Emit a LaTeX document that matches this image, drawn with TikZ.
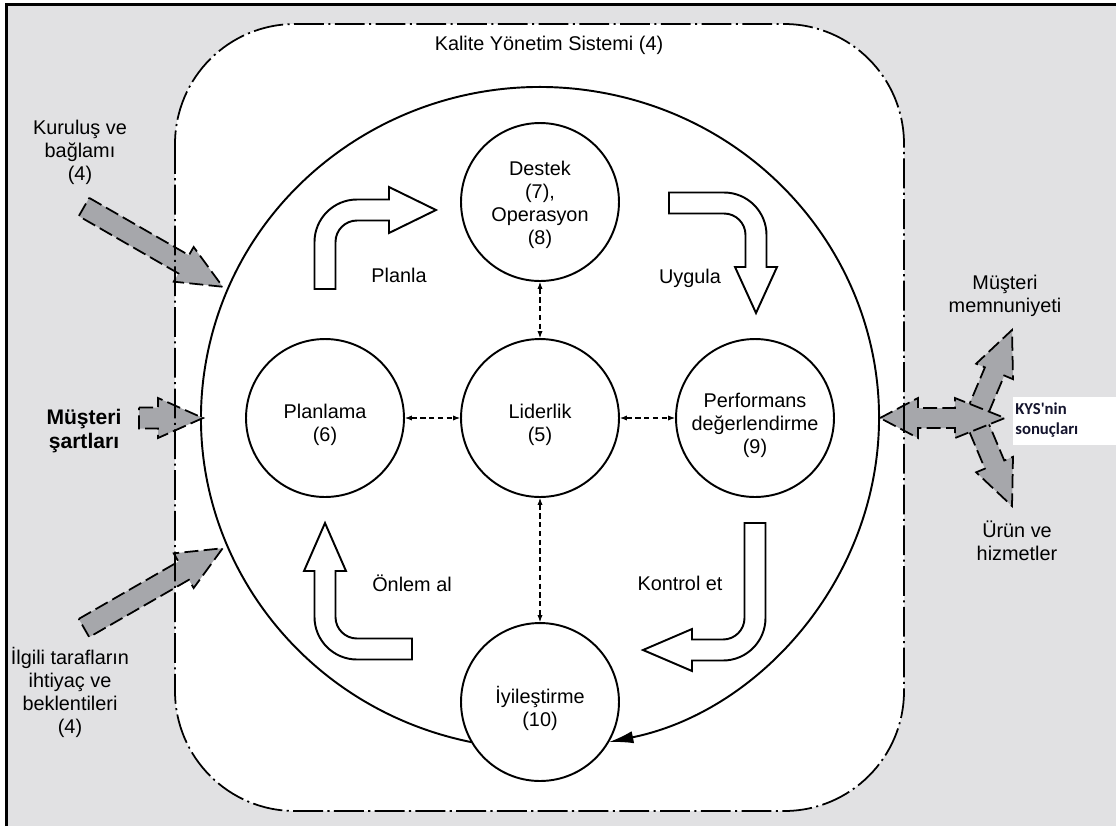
\documentclass[tikz,border=0pt]{standalone}
\usepackage{fontspec}
\setmainfont{Liberation Sans}
\newfontfamily\kysfont{Carlito}[Ligatures=TeXOff]
\usetikzlibrary{arrows.meta}
\definecolor{bggrey}{RGB}{225,225,227}
\definecolor{argrey}{RGB}{166,167,171}
\definecolor{kysink}{RGB}{20,20,45}
\newcommand{\mysz}{\fontsize{11.3}{13.1}\selectfont}
\newcommand{\GArrow}[4]{%
  \begin{scope}[shift={(#1,#2)},rotate=#3]
    \path[greyarr] (0,10.5) -- ({#4-45},10.5) -- ({#4-45},20) -- (#4,0) -- ({#4-45},-20) -- ({#4-45},-10.5) -- (0,-10.5) -- cycle;
  \end{scope}}
\tikzset{
  circ/.style={circle, draw, line width=1.1pt, minimum size=3.16cm, inner sep=0pt, fill=white},
  lbl/.style={align=center, font=\mysz, inner sep=0pt},
  dbl/.style={dash pattern=on 3pt off 2pt, line width=0.6pt, {Latex[length=4pt,width=3pt]}-{Latex[length=4pt,width=3pt]}},
  blockarr/.style={draw, fill=white, line width=1.1pt, line join=miter},
  greyarr/.style={draw, fill=argrey, line width=1pt, dash pattern=on 8pt off 3pt, line join=miter},
  dashdot/.style={line width=1pt, dash pattern=on 17pt off 2.5pt on 1.2pt off 2.5pt},
}
\begin{document}
\begin{tikzpicture}[x=0.02cm,y=0.02cm]
\useasboundingbox (0,0) rectangle (1116,-826);
% background and frame
\fill[white] (0,0) rectangle (1116,-826);
\fill[bggrey] (5,-3) rectangle (1116,-826);
\draw[line width=1.7pt] (6.5,-826) -- (6.5,-4) -- (1116,-4);
% system boundary fill
\fill[white, rounded corners=2.4cm] (175,-24) rectangle (904,-811);
% big cycle
\coordinate (C) at (540,-418);
\draw[line width=1.1pt, -{Latex[length=14pt,width=7pt]}] ([shift={(258.3:339 and 331)}]C) arc[start angle=258.3, end angle=-78.3, x radius=339, y radius=331];
% block arrows
\path[blockarr] (314.5,-289) -- (314.5,-242) arc[start angle=180,end angle=90,radius=42.5] -- (389,-199.5) -- (389,-187) -- (436,-210) -- (389,-233) -- (389,-220.5) -- (357,-220.5) arc[start angle=90,end angle=180,radius=21.5] -- (335.5,-289) -- cycle;
\path[blockarr] (669,-192.5) -- (724,-192.5) arc[start angle=90,end angle=0,radius=42.5] -- (766.5,-267) -- (777,-267) -- (756,-313) -- (735,-267) -- (745.5,-267) -- (745.5,-235) arc[start angle=0,end angle=90,radius=21.5] -- (669,-213.5) -- cycle;
\path[blockarr] (744.5,-523) -- (765.5,-523) -- (765.5,-618) arc[start angle=0,end angle=-90,radius=42.5] -- (692,-660.5) -- (692,-671) -- (643,-650) -- (692,-629) -- (692,-639.5) -- (723,-639.5) arc[start angle=-90,end angle=0,radius=21.5] -- cycle;
\path[blockarr] (412,-638.5) -- (357,-638.5) arc[start angle=-90,end angle=-180,radius=21.5] -- (335.5,-571) -- (346,-571) -- (325,-523) -- (304,-571) -- (314.5,-571) -- (314.5,-617) arc[start angle=180,end angle=270,radius=42.5] -- (412,-659.5) -- cycle;
% circles
\node[circ] (des) at (540,-202) {};
\node[circ] (pla) at (325,-418) {};
\node[circ] (lid) at (540,-418) {};
\node[circ] (per) at (755,-418) {};
\node[circ] (iyi) at (540,-702) {};
\node[lbl, yshift=-0.06cm] (desT) at (des) {Destek\\(7),\\Operasyon\\(8)};
\node[lbl, yshift=-0.14cm] (plaT) at (pla) {Planlama\\(6)};
\node[lbl, yshift=-0.14cm] (lidT) at (lid) {Liderlik\\(5)};
\node[lbl, yshift=-0.14cm] (perT) at (per) {Performans\\değerlendirme\\(9)};
\node[lbl, yshift=-0.12cm] (iyiT) at (iyi) {İyileştirme\\(10)};
\draw[dbl] (des) -- (lid);
\draw[dbl] (pla) -- (lid);
\draw[dbl] (lid) -- (per);
\draw[dbl] (lid) -- (iyi);
% grey input arrows
\GArrow{84}{-207}{-29.9}{160}
\GArrow{84}{-628}{29.9}{160}
\GArrow{139}{-418}{0}{64}
% output arrows
\GArrow{975}{-418}{67.2}{95.5}
\GArrow{975}{-418}{-67.2}{95.5}
\path[greyarr] (880,-418) -- (918,-398) -- (918,-408) -- (955,-408) -- (955,-398) -- (1005,-418) -- (955,-438) -- (955,-428) -- (918,-428) -- (918,-438) -- cycle;
% system boundary line
\draw[dashdot, rounded corners=2.4cm] (175,-24) rectangle (904,-811);
% labels
\node[lbl] (title) at (549,-45) {Kalite Yönetim Sistemi (4)};
\node[lbl] (kur) at (80,-152) {Kuruluş ve\\bağlamı\\(4)};
\node[lbl, font=\bfseries\fontsize{12}{14}\selectfont] (mus) at (84,-431) {Müşteri\\şartları};
\node[lbl] (ilg) at (70,-692) {İlgili tarafların\\ihtiyaç ve\\beklentileri\\(4)};
\node[lbl] (plan) at (399,-275) {Planla};
\node[lbl] (uyg) at (690,-278) {Uygula};
\node[lbl] (onl) at (412,-583) {Önlem al};
\node[lbl] (kon) at (680,-583) {Kontrol et};
\node[lbl] (mem) at (1005,-296) {Müşteri\\memnuniyeti};
\node[lbl] (urun) at (1017,-541) {Ürün ve\\hizmetler};
\node[fill=white, anchor=north west, minimum width=2.06cm, minimum height=0.96cm, inner sep=0pt] (kysbox) at (1013,-397) {};
\node[anchor=west, align=left, inner sep=0pt, text=kysink, font=\kysfont\bfseries\fontsize{9.5}{11.4}\selectfont] (kys) at (1015,-420) {KYS'nin\\sonuçları};
\end{tikzpicture}
\end{document}
